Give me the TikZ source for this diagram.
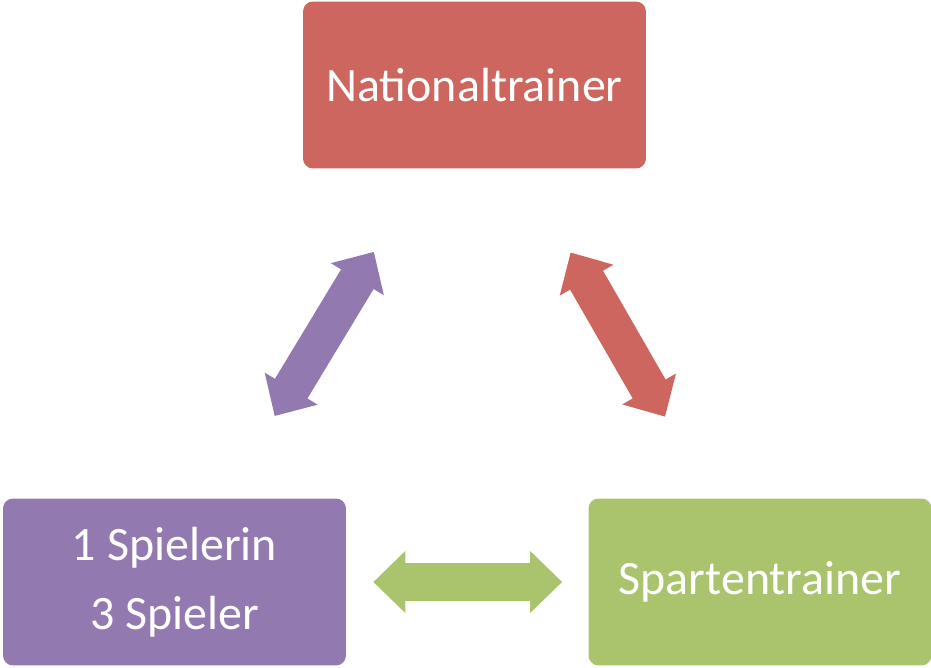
\documentclass[tikz,border=0pt]{standalone}
\usepackage{fontspec}
\setmainfont{Carlito}
\usetikzlibrary{arrows.meta}
\definecolor{natred}{RGB}{205,102,95}
\definecolor{spielpurple}{RGB}{146,122,177}
\definecolor{spartgreen}{RGB}{170,196,109}

\begin{document}
\begin{tikzpicture}[x=0.02cm,y=0.02cm,
    box/.style={rounded corners=0.2cm,minimum width=6.86cm,minimum height=3.34cm,
      text=white,align=center,font=\fontsize{27.3}{39.3}\selectfont,inner sep=0pt},
    dblarrow/.style={line width=0.76cm,
      {Triangle[length=0.64cm,width=1.2cm]}-{Triangle[length=0.64cm,width=1.2cm]}}]
        \useasboundingbox (0,0) rectangle (931,-668);
        % Boxes
        \node[box,fill=natred] (national) at (474.5,-85) {Nationaltrainer};
        \node[box,fill=spielpurple] (spieler) at (174.5,-582) {1 Spielerin\\3 Spieler};
        \node[box,fill=spartgreen] (sparten) at (760,-582) {Spartentrainer};
        % Arrows between boxes
        \draw[dblarrow,spielpurple,shorten <=1.92cm,shorten >=1.94cm] (spieler) -- (national);
        \draw[dblarrow,natred,shorten <=1.88cm,shorten >=1.93cm] (sparten) -- (national);
        \draw[dblarrow,spartgreen,shorten <=0.54cm,shorten >=0.52cm] (spieler) -- (sparten);
    \end{tikzpicture}
\end{document}
